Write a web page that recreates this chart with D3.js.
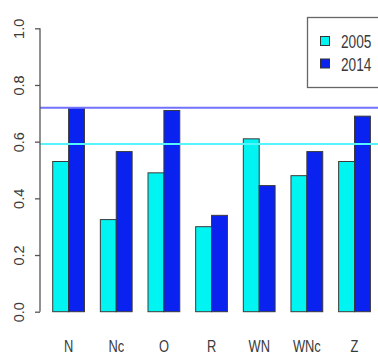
<!DOCTYPE html>
<html>
<head>
<meta charset="utf-8">
<script src="https://cdn.jsdelivr.net/npm/d3@7"></script>
<style>
  html, body { margin: 0; padding: 0; background: #fff; }
  svg { display: block; }
</style>
</head>
<body>
<svg id="chart" width="378" height="356"></svg>
<script>
// Category labels and the two yearly series
const categories = ["N", "Nc", "O", "R", "WN", "WNc", "Z"];
const years = ["2005", "2014"];
const values2005 = [0.53, 0.325, 0.49, 0.30, 0.61, 0.48, 0.53];
const values2014 = [0.72, 0.565, 0.71, 0.34, 0.445, 0.565, 0.69];
// Horizontal reference levels
const refLevels = [0.72, 0.592];
const yTicks = [0.0, 0.2, 0.4, 0.6, 0.8, 1.0];

const colors = { "2005": "#00f5f2", "2014": "#0a22f0" };
const refColors = ["#7272ff", "#55f4ff"];
const narrow = 0.78; // horizontal squeeze for condensed labels

const svg = d3.select("#chart");

const plotLeft = 40, plotRight = 390;
const y = d3.scaleLinear().domain([0, 1]).range([311.7, 28.3]);

// Each group holds two adjacent bars followed by a gap of one bar width
const x = d3.scaleBand()
  .domain(categories)
  .range([52.7, 370.4])
  .paddingInner(1 / 3)
  .paddingOuter(0);
const xSub = d3.scaleBand().domain(years).range([0, x.bandwidth()]);

const series = years.map((yr, k) => ({
  year: yr,
  values: (k === 0 ? values2005 : values2014)
}));

// Bars
const groups = svg.append("g")
  .selectAll("g")
  .data(categories)
  .join("g")
  .attr("transform", d => `translate(${x(d)},0)`);

groups.selectAll("rect")
  .data((d, i) => series.map(s => ({ year: s.year, value: s.values[i] })))
  .join("rect")
  .attr("x", d => xSub(d.year))
  .attr("width", xSub.bandwidth())
  .attr("y", d => y(d.value))
  .attr("height", d => y(0) - y(d.value))
  .attr("fill", d => colors[d.year])
  .attr("stroke", "#3a3a3a")
  .attr("stroke-width", 1);

// Reference lines across the plot region
svg.append("g")
  .selectAll("line")
  .data(refLevels)
  .join("line")
  .attr("x1", plotLeft)
  .attr("x2", plotRight)
  .attr("y1", d => y(d))
  .attr("y2", d => y(d))
  .attr("stroke", (d, i) => refColors[i])
  .attr("stroke-width", 2);

// Left axis with rotated tick labels
const yAxis = d3.axisLeft(y)
  .tickValues(yTicks)
  .tickFormat(d3.format(".1f"))
  .tickSize(5)
  .tickPadding(0);

const axisG = svg.append("g")
  .attr("transform", `translate(${plotLeft},0)`)
  .call(yAxis);

axisG.select(".domain")
  .attr("d", `M0,${y(1)}V${y(0)}`)
  .attr("stroke", "#555")
  .attr("stroke-width", 1.3);
axisG.selectAll(".tick line").attr("stroke", "#555").attr("stroke-width", 1.3);
axisG.selectAll(".tick text")
  .attr("x", 0)
  .attr("dy", 0)
  .attr("text-anchor", "middle")
  .attr("transform", "translate(-21,0) rotate(-90)")
  .attr("dominant-baseline", "central")
  .attr("fill", "#3a3a3a")
  .style("font-family", "'Liberation Sans', Arial, sans-serif")
  .style("font-size", "14.5px");

// Category labels under each group
svg.append("g")
  .selectAll("text")
  .data(categories)
  .join("text")
  .attr("transform", d => `translate(${x(d) + x.bandwidth() / 2},352) scale(${narrow},1)`)
  .attr("text-anchor", "middle")
  .attr("fill", "#3a3a3a")
  .style("font-family", "'Liberation Sans', Arial, sans-serif")
  .style("font-size", "16.5px")
  .text(d => d);

// Legend
const legend = svg.append("g");
legend.append("rect")
  .attr("x", 307.5).attr("y", 17.5)
  .attr("width", 90).attr("height", 70)
  .attr("fill", "#fff")
  .attr("stroke", "#666")
  .attr("stroke-width", 1.3);

const legendRows = legend.selectAll("g.row")
  .data(years)
  .join("g")
  .attr("class", "row")
  .attr("transform", (d, i) => `translate(0,${i * 22.5})`);

legendRows.append("rect")
  .attr("x", 320.5).attr("y", 36.5)
  .attr("width", 9).attr("height", 9)
  .attr("fill", d => colors[d])
  .attr("stroke", "#333")
  .attr("stroke-width", 1);

legendRows.append("text")
  .attr("transform", `translate(341,48) scale(${narrow},1)`)
  .attr("fill", "#3a3a3a")
  .style("font-family", "'Liberation Sans', Arial, sans-serif")
  .style("font-size", "17.5px")
  .text(d => d);
</script>
</body>
</html>
